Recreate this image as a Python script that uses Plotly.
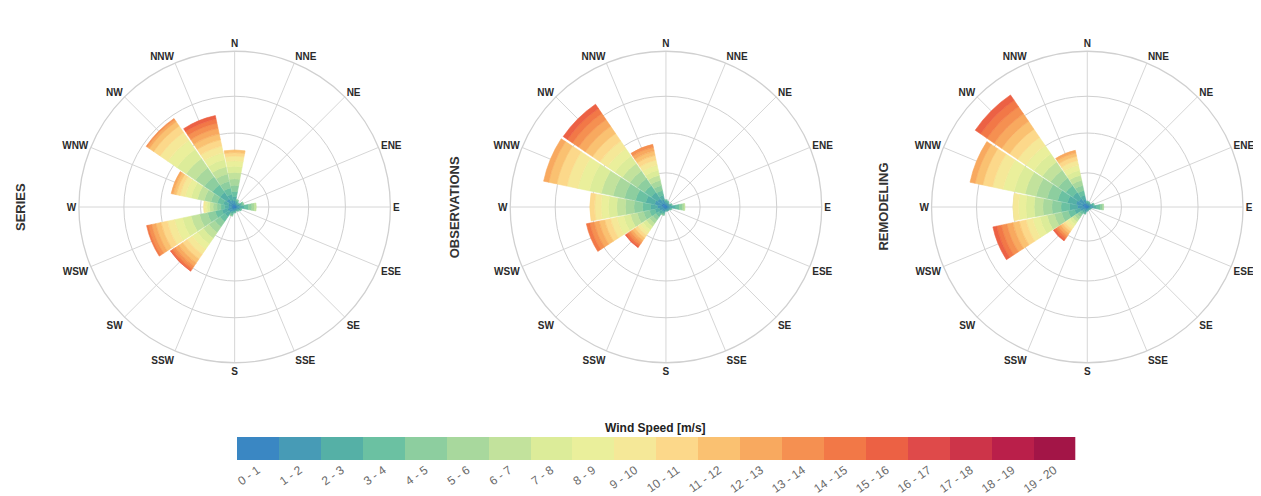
import plotly.graph_objects as go

# ---------------- data ----------------
DIRECTIONS = ["N", "NNE", "NE", "ENE", "E", "ESE", "SE", "SSE",
              "S", "SSW", "SW", "WSW", "W", "WNW", "NW", "NNW"]

SPEED_BINS = ["0 - 1", "1 - 2", "2 - 3", "3 - 4", "4 - 5", "5 - 6", "6 - 7",
              "7 - 8", "8 - 9", "9 - 10", "10 - 11", "11 - 12", "12 - 13",
              "13 - 14", "14 - 15", "15 - 16", "16 - 17", "17 - 18",
              "18 - 19", "19 - 20"]

PANEL_TITLES = ["SERIES", "OBSERVATIONS", "REMODELING"]

# frequency per speed bin (bins 0-1, 1-2, ...) for each direction
SERIES = {
    "N":   [0.3, 0.4, 0.5, 0.6, 0.7, 0.75, 0.75, 0.7, 0.65, 0.55, 0.4, 0.3],
    "NNE": [0.25, 0.25, 0.2, 0.15, 0.05],
    "NE":  [0.2, 0.2, 0.15, 0.1],
    "ENE": [0.25, 0.3, 0.25, 0.2, 0.1],
    "E":   [0.3, 0.4, 0.45, 0.45, 0.4, 0.3, 0.2],
    "ESE": [0.25, 0.3, 0.2, 0.1],
    "SE":  [0.2, 0.2, 0.15, 0.1],
    "SSE": [0.2, 0.2, 0.1],
    "S":   [0.2, 0.25, 0.15, 0.1],
    "SSW": [0.25, 0.3, 0.25, 0.2, 0.1],
    "SW":  [0.3, 0.45, 0.6, 0.7, 0.75, 0.8, 0.8, 0.8, 0.75, 0.7, 0.65, 0.55, 0.45, 0.35, 0.25, 0.1],
    "WSW": [0.35, 0.5, 0.65, 0.8, 0.9, 0.95, 1.0, 1.0, 0.95, 0.85, 0.75, 0.6, 0.5, 0.4, 0.2],
    "W":   [0.3, 0.4, 0.45, 0.45, 0.45, 0.45, 0.4, 0.3, 0.25, 0.15],
    "WNW": [0.3, 0.45, 0.6, 0.7, 0.75, 0.8, 0.8, 0.75, 0.7, 0.6, 0.45, 0.35, 0.25],
    "NW":  [0.45, 0.7, 0.9, 1.05, 1.15, 1.25, 1.3, 1.3, 1.25, 1.1, 0.9, 0.6, 0.3, 0.15],
    "NNW": [0.35, 0.5, 0.65, 0.75, 0.8, 0.85, 0.85, 0.85, 0.8, 0.8, 0.75, 0.7, 0.65, 0.6, 0.5, 0.4],
}

OBSERVATIONS = {
    "N":   [0.25, 0.3, 0.2, 0.1],
    "NNE": [0.2, 0.25, 0.15, 0.1],
    "NE":  [0.2, 0.2, 0.1],
    "ENE": [0.2, 0.25, 0.2, 0.1],
    "E":   [0.3, 0.4, 0.45, 0.4, 0.35, 0.2, 0.1],
    "ESE": [0.2, 0.25, 0.15, 0.1],
    "SE":  [0.2, 0.2, 0.1],
    "SSE": [0.2, 0.2, 0.1],
    "S":   [0.2, 0.2, 0.1],
    "SSW": [0.25, 0.3, 0.25, 0.15, 0.05],
    "SW":  [0.25, 0.35, 0.4, 0.4, 0.45, 0.45, 0.45, 0.45, 0.4, 0.4, 0.35, 0.35, 0.3, 0.3, 0.25, 0.15],
    "WSW": [0.3, 0.45, 0.55, 0.65, 0.7, 0.75, 0.8, 0.8, 0.8, 0.75, 0.7, 0.65, 0.6, 0.5, 0.4],
    "W":   [0.4, 0.6, 0.8, 0.9, 1.0, 1.0, 1.0, 0.95, 0.85, 0.75, 0.55],
    "WNW": [0.55, 0.8, 1.05, 1.2, 1.3, 1.35, 1.4, 1.4, 1.35, 1.3, 1.2, 0.95, 0.6],
    "NW":  [0.5, 0.7, 0.85, 0.95, 1.0, 1.05, 1.05, 1.05, 1.05, 1.05, 1.05, 1.0, 0.95, 0.85, 0.7, 0.6],
    "NNW": [0.4, 0.5, 0.5, 0.55, 0.6, 0.6, 0.6, 0.6, 0.6, 0.6, 0.55, 0.5, 0.45, 0.35],
}

REMODELING = {
    "N":   [0.2, 0.25, 0.15, 0.1],
    "NNE": [0.2, 0.2, 0.15, 0.05],
    "NE":  [0.2, 0.2, 0.1],
    "ENE": [0.25, 0.3, 0.2, 0.1],
    "E":   [0.3, 0.4, 0.4, 0.4, 0.25, 0.15],
    "ESE": [0.2, 0.2, 0.1],
    "SE":  [0.15, 0.15, 0.1],
    "SSE": [0.15, 0.15, 0.1],
    "S":   [0.2, 0.2, 0.1],
    "SSW": [0.25, 0.3, 0.2, 0.1],
    "SW":  [0.2, 0.25, 0.3, 0.3, 0.35, 0.35, 0.35, 0.35, 0.35, 0.35, 0.3, 0.3, 0.3, 0.25, 0.25, 0.2],
    "WSW": [0.35, 0.5, 0.65, 0.75, 0.8, 0.85, 0.85, 0.85, 0.85, 0.8, 0.8, 0.75, 0.7, 0.65, 0.55, 0.45],
    "W":   [0.45, 0.7, 0.9, 1.0, 1.05, 1.05, 1.0, 0.95, 0.85, 0.65],
    "WNW": [0.55, 0.8, 1.0, 1.15, 1.25, 1.3, 1.3, 1.3, 1.3, 1.25, 1.15, 0.9, 0.6],
    "NW":  [0.5, 0.7, 0.85, 0.95, 1.05, 1.1, 1.15, 1.15, 1.15, 1.15, 1.15, 1.1, 1.05, 1.0, 0.9, 0.75],
    "NNW": [0.4, 0.5, 0.5, 0.55, 0.6, 0.6, 0.6, 0.6, 0.6, 0.55, 0.5, 0.4, 0.3],
}

RADIAL_RINGS = [3.95, 8.55, 12.8]
RADIAL_MAX = 18

# ---------------- styling ----------------
# colours of the speed classes (blue -> dark red, as in the key)
COLORS = ["#3a87c3", "#479bb6", "#55b0a6", "#6bc1a2", "#8dce9f", "#a8d89d",
          "#c2e29c", "#dcec99", "#eaef9b", "#f5e898", "#fcd88a", "#fac171",
          "#f8a95f", "#f59051", "#f27847", "#ec6144", "#df4a4a", "#cd3449",
          "#ba1f4a", "#a31547"]

WIN_W, WIN_H = 1261, 496
OFF = 8                      # default page margin around the plot div
FW, FH = WIN_W - OFF, WIN_H - OFF


def xp(px):
    return (px - OFF) / FW


def yp(py):
    return 1 - (py - OFF) / FH


PANELS = [SERIES, OBSERVATIONS, REMODELING]
CENTERS_X = [233, 665, 1087]
CENTER_Y = 207
R_PX = 156
LABEL_X = [18, 453, 882]

fig = go.Figure()

for p, data in enumerate(PANELS):
    sub = "polar" if p == 0 else f"polar{p + 1}"
    for b in range(len(SPEED_BINS)):
        r = [data[d][b] if b < len(data[d]) else 0 for d in DIRECTIONS]
        if not any(r):
            continue
        fig.add_trace(go.Barpolar(
            r=r, theta=DIRECTIONS, subplot=sub,
            marker=dict(color=COLORS[b], line=dict(color=COLORS[b], width=0.6)),
            name=SPEED_BINS[b], showlegend=False,
        ))

polar_common = dict(
    bgcolor="white",
    barmode="stack",
    bargap=0.06,
    angularaxis=dict(
        direction="clockwise", rotation=90,
        categoryorder="array", categoryarray=DIRECTIONS,
        showline=True, linecolor="#d0d0d0", linewidth=1.3,
        gridcolor="#d6d6d6", gridwidth=1,
        ticks="", tickfont=dict(family="Liberation Sans", size=10, color="#2a2a2a", weight="bold"),
    ),
    radialaxis=dict(
        range=[0, RADIAL_MAX], tickvals=RADIAL_RINGS,
        showticklabels=False, ticks="", showline=False,
        gridcolor="#d0d0d0", gridwidth=1.3,
    ),
)

for p in range(3):
    key = "polar" if p == 0 else f"polar{p + 1}"
    cx = CENTERS_X[p]
    dom = dict(
        x=[xp(cx - R_PX), min(xp(cx + R_PX), 1.0)],
        y=[yp(CENTER_Y + R_PX), yp(CENTER_Y - R_PX)],
    )
    fig.update_layout({key: dict(domain=dom, **polar_common)})

# colour key along the bottom
fig.add_trace(go.Bar(
    x=SPEED_BINS, y=[1] * len(SPEED_BINS),
    marker=dict(color=COLORS, line=dict(width=0)),
    width=1, xaxis="x", yaxis="y", showlegend=False, hoverinfo="x",
))

fig.update_layout(
    width=FW, height=FH,
    margin=dict(l=0, r=0, t=0, b=0),
    paper_bgcolor="white", plot_bgcolor="white",
    bargap=0,
    xaxis=dict(
        domain=[xp(235), xp(1075)], range=[-0.5, len(SPEED_BINS) - 0.5],
        tickangle=-35, ticks="", showgrid=False, showline=False, zeroline=False,
        tickfont=dict(family="Liberation Sans", size=12, color="#6a6a6a"),
    ),
    yaxis=dict(
        domain=[yp(460), yp(437)], range=[0, 1],
        showticklabels=False, showgrid=False, zeroline=False, showline=False,
    ),
    font=dict(family="Liberation Sans"),
)

annotations = [
    dict(text="Wind Speed [m/s]", x=xp(655), y=yp(428), xref="paper", yref="paper",
         showarrow=False, font=dict(size=12, color="#222222", weight="bold"),
         xanchor="center", yanchor="middle"),
]
for p, title in enumerate(PANEL_TITLES):
    annotations.append(dict(
        text=title, x=xp(LABEL_X[p]), y=yp(CENTER_Y), xref="paper", yref="paper",
        showarrow=False, textangle=-90,
        font=dict(size=13, color="#333333", weight="bold"),
        xanchor="center", yanchor="middle",
    ))
fig.update_layout(annotations=annotations)

fig.write_html("out.html")
